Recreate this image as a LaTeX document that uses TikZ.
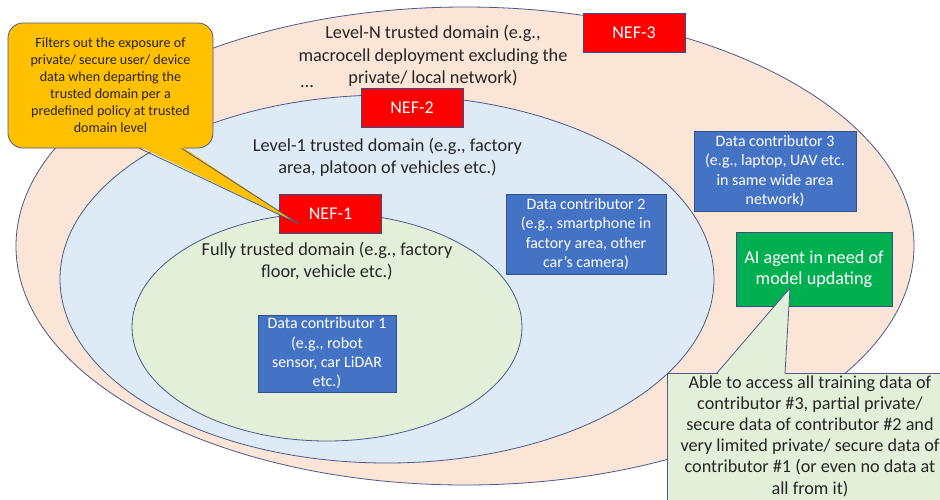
\documentclass[tikz,border=0pt]{standalone}
\usepackage{fontspec}
\setmainfont{Carlito}
\usetikzlibrary{calc,shapes.geometric}

\definecolor{peach}{HTML}{FBE5D6}
\definecolor{paleblue}{HTML}{DEEBF7}
\definecolor{palegreen}{HTML}{E2F0D9}
\definecolor{outline}{HTML}{4A5A8A}
\definecolor{boxblue}{HTML}{4472C4}
\definecolor{boxedge}{HTML}{2F528F}
\definecolor{nefred}{HTML}{FF0000}
\definecolor{agentgreen}{HTML}{00B050}
\definecolor{amber}{HTML}{FFC000}
\definecolor{ink}{HTML}{262626}

\tikzset{
  zone/.style={ellipse, draw=outline, line width=0.8pt, inner sep=0pt},
  zonetext/.style={text=ink, align=center, inner sep=0pt,
    font=\fontsize{18.3pt}{22.5pt}\selectfont},
  nefbox/.style={rectangle, fill=nefred, draw=boxedge, line width=0.6pt,
    text=white, minimum width=102pt, minimum height=39pt, inner sep=0pt,
    font=\fontsize{18pt}{21pt}\selectfont},
  contrib/.style={rectangle, fill=boxblue, draw=boxedge, line width=0.6pt,
    text=white, align=center, inner sep=0pt,
    font=\fontsize{15.9pt}{19.3pt}\selectfont},
  agent/.style={rectangle, fill=agentgreen, draw=boxedge, line width=0.6pt,
    text=white, align=center, inner sep=0pt,
    font=\fontsize{18.2pt}{20.5pt}\selectfont},
  ambernote/.style={rectangle, rounded corners=15pt, fill=amber, draw=outline,
    line width=0.8pt, text=ink, align=center, inner sep=0pt,
    font=\fontsize{14.1pt}{17pt}\selectfont},
  greennote/.style={rectangle, fill=palegreen, draw=outline, line width=0.8pt,
    inner sep=0pt},
  notetext/.style={text=ink, align=center, inner sep=0pt,
    font=\fontsize{18.2pt}{21.2pt}\selectfont},
  edgeline/.style={draw=outline, line width=0.8pt, line join=miter},
}

\begin{document}
\begin{tikzpicture}[x=1pt, y=-1pt]
\useasboundingbox (0,0) rectangle (940,499);
\clip (0,0) rectangle (940,499);
\fill[white] (0,0) rectangle (940,499);

% nested trust domains
\node[zone, fill=peach, minimum width=898pt, minimum height=478pt] (levelN) at (465,246) {};
\node[zone, fill=paleblue, minimum width=654pt, minimum height=368pt] (level1) at (387,279) {};
\node[zone, fill=palegreen, minimum width=390pt, minimum height=228pt] (fully) at (327,327) {};

% domain captions
\node[zonetext] (levelNtxt) at (433,56) {Level-N trusted domain (e.g.,\\macrocell deployment excluding the\\private/ local network)};
\node[zonetext] (dots) at (307,87) {...};
\node[zonetext] (level1txt) at (387.5,157.5) {Level-1 trusted domain (e.g., factory\\area, platoon of vehicles etc.)};
\node[zonetext] (fullytxt) at (327,261) {Fully trusted domain (e.g., factory\\floor, vehicle etc.)};

% network exposure functions
\node[nefbox] (nef3) at (634,33) {NEF-3};
\node[nefbox] (nef2) at (412,107.5) {NEF-2};
\node[nefbox] (nef1) at (330.5,213.5) {NEF-1};

% data contributors and the AI agent
\node[contrib, minimum width=138pt, minimum height=77pt] (dc1) at (327,353.5)
  {Data contributor 1\\(e.g., robot\\sensor, car LiDAR\\etc.)};
\node[contrib, minimum width=160pt, minimum height=80pt] (dc2) at (586,234)
  {Data contributor 2\\(e.g., smartphone in\\factory area, other\\car's camera)};
\node[contrib, minimum width=162pt, minimum height=80pt] (dc3) at (775,171)
  {Data contributor 3\\(e.g., laptop, UAV etc.\\in same wide area\\network)};
\node[agent, minimum width=156pt, minimum height=74pt] (ai) at (814,269)
  {AI agent in need of\\model updating};

% callout on the NEF filtering policy
\node[ambernote, minimum width=205pt, minimum height=125pt] (filter) at (110.5,85.5)
  {Filters out the exposure of\\private/ secure user/ device\\data when departing the\\trusted domain per a\\predefined policy at trusted\\domain level};
\coordinate (filtertip) at (299,224);
\fill[amber] ($(filter.south west)+(132,-2)$) -- (filtertip) -- ($(filter.south west)+(174,-2)$) -- cycle;
\draw[edgeline] ($(filter.south west)+(132,0)$) -- (filtertip) -- ($(filter.south west)+(174,0)$);

% callout on the agent's data access
\node[greennote, anchor=north west, minimum width=288pt, minimum height=160pt] (access) at (667,373) {};
\coordinate (accesstip) at (790,288);
\fill[palegreen] ($(access.north west)+(50,2)$) -- (accesstip) -- ($(access.north west)+(118,2)$) -- cycle;
\draw[edgeline] ($(access.north west)+(50,0)$) -- (accesstip) -- ($(access.north west)+(118,0)$);
\node[notetext] (accesstxt) at (810,436)
  {Able to access all training data of\\contributor \#3, partial private/\\secure data of contributor \#2 and\\very limited private/ secure data of\\contributor \#1 (or even no data at\\all from it)};
\end{tikzpicture}
\end{document}
